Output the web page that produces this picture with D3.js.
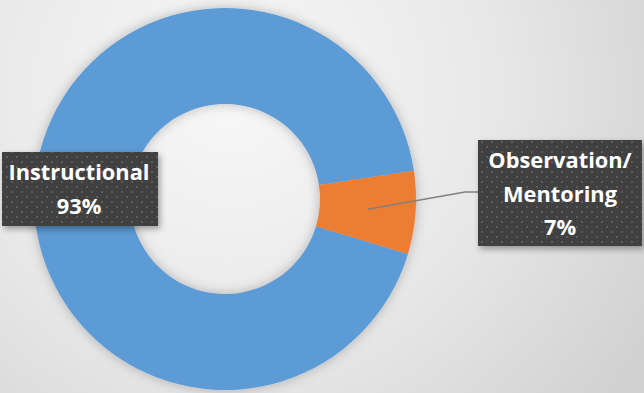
<!DOCTYPE html>
<html>
<head>
<meta charset="utf-8">
<script src="https://cdn.jsdelivr.net/npm/d3@7"></script>
<style>
  body { margin: 0; overflow: hidden; }
  text { font-family: "Open Sans", Lato, sans-serif; font-weight: bold; font-variant-ligatures: none; }
</style>
</head>
<body>
<div id="donut"></div>
<script>
// data
var categories = ["Instructional", "Observation/Mentoring"];
var values = [93, 7];
var labelLines = [["Instructional", "93%"], ["Observation/", "Mentoring", "7%"]];
var colors = ["#5b9bd5", "#ed7d31"];

var width = 644, height = 393;
var cx = 225, cy = 199, outerR = 191, innerR = 95;

var svg = d3.select("#donut")
    .append("svg")
    .attr("width", width)
    .attr("height", height);

var defs = svg.append("defs");

// background gradient
var bg = defs.append("radialGradient")
    .attr("id", "bg")
    .attr("gradientUnits", "userSpaceOnUse")
    .attr("cx", 230).attr("cy", 90).attr("r", 480);
bg.append("stop").attr("offset", "0%").attr("stop-color", "#f8f8f8");
bg.append("stop").attr("offset", "55%").attr("stop-color", "#e8e8e8");
bg.append("stop").attr("offset", "100%").attr("stop-color", "#d2d2d2");

svg.append("rect")
    .attr("width", width).attr("height", height)
    .attr("fill", "url(#bg)");

// soft shadow
var sh = defs.append("filter").attr("id", "shadow")
    .attr("x", "-20%").attr("y", "-20%").attr("width", "140%").attr("height", "140%");
sh.append("feDropShadow")
    .attr("dx", 0).attr("dy", 0).attr("stdDeviation", 6)
    .attr("flood-color", "#000").attr("flood-opacity", 0.25);

var boxSh = defs.append("filter").attr("id", "boxShadow")
    .attr("x", "-20%").attr("y", "-20%").attr("width", "140%").attr("height", "140%");
boxSh.append("feDropShadow")
    .attr("dx", 2).attr("dy", 3).attr("stdDeviation", 3)
    .attr("flood-color", "#000").attr("flood-opacity", 0.35);

// dotted pattern for label boxes
var pat = defs.append("pattern")
    .attr("id", "dots")
    .attr("patternUnits", "userSpaceOnUse")
    .attr("width", 10).attr("height", 10);
pat.append("rect").attr("width", 10).attr("height", 10).attr("fill", "#404040");
pat.append("rect").attr("x", 1).attr("y", 1).attr("width", 2).attr("height", 2).attr("fill", "#5c5c5c");
pat.append("rect").attr("x", 6).attr("y", 6).attr("width", 2).attr("height", 2).attr("fill", "#5c5c5c");
pat.append("rect").attr("x", 6).attr("y", 1).attr("width", 1).attr("height", 1).attr("fill", "#4c4c4c");
pat.append("rect").attr("x", 1).attr("y", 6).attr("width", 1).attr("height", 1).attr("fill", "#4c4c4c");

var pie = d3.pie()
    .sort(null)
    .startAngle(106.7 * Math.PI / 180)
    .endAngle((106.7 + 360) * Math.PI / 180);

var arc = d3.arc().innerRadius(innerR).outerRadius(outerR);

var arcs = pie(values);

var g = svg.append("g")
    .attr("transform", "translate(" + cx + "," + cy + ")");

g.append("g")
    .attr("filter", "url(#shadow)")
    .selectAll("path")
    .data(arcs)
    .enter()
    .append("path")
    .attr("d", arc)
    .attr("fill", function (d, i) { return colors[i]; });

// leader line for the small slice
var mid = d3.arc().innerRadius(outerR * 0.75).outerRadius(outerR * 0.75).centroid(arcs[1]);
g.append("polyline")
    .attr("points", [[mid[0], mid[1]], [465 - cx, 192 - cy], [479 - cx, 192 - cy]].map(function (p) { return p.join(","); }).join(" "))
    .attr("fill", "none")
    .attr("stroke", "#808080")
    .attr("stroke-width", 1.5);

// label boxes
var boxes = [
    { x: 2, y: 152, w: 156, h: 74, cx: 79, first: 180 },
    { x: 478, y: 140, w: 164, h: 106, cx: 560, first: 168 }
];
var lineGap = 33.5;

boxes.forEach(function (b, i) {
    svg.append("rect")
        .attr("x", b.x).attr("y", b.y)
        .attr("width", b.w).attr("height", b.h)
        .attr("fill", "url(#dots)")
        .attr("filter", "url(#boxShadow)");
    svg.append("g").selectAll("text")
        .data(labelLines[i])
        .enter()
        .append("text")
        .attr("x", b.cx)
        .attr("y", function (d, j) { return b.first + j * lineGap; })
        .attr("text-anchor", "middle")
        .attr("fill", "#ffffff")
        .style("font-size", "21.8px")
        .text(function (d) { return d; });
});
</script>
</body>
</html>
